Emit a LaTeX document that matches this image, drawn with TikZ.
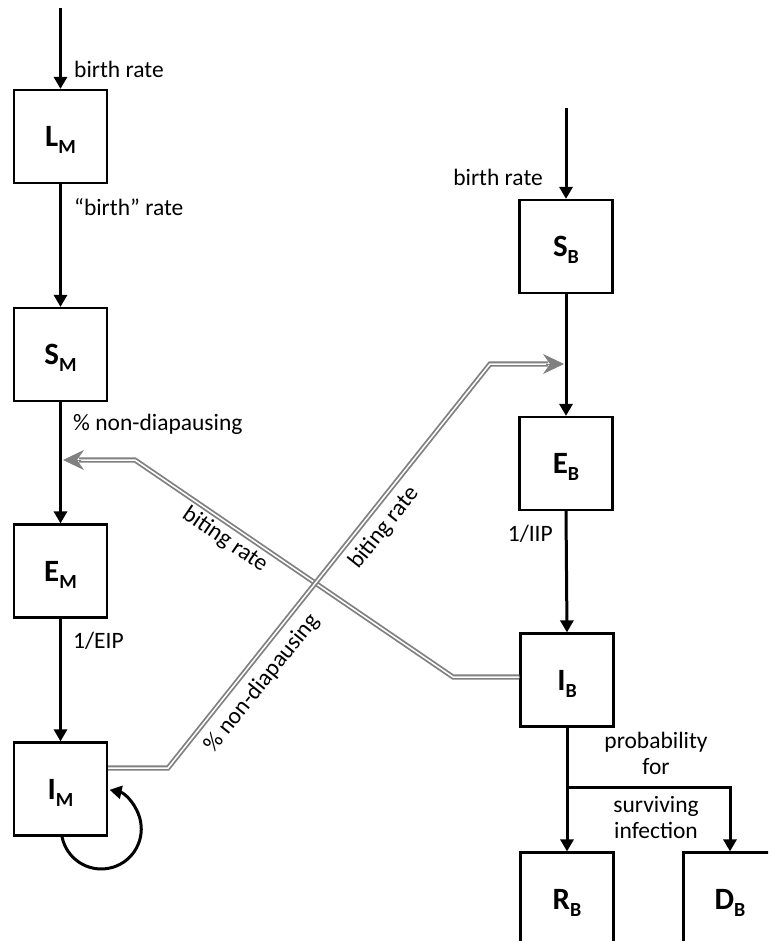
\documentclass[tikz,border=0pt]{standalone}
\usepackage{fontspec}
\setmainfont{Carlito}
\usetikzlibrary{arrows.meta,calc}
\newcommand\lab[2]{#1\raisebox{-7pt}{\fontsize{20}{20}\selectfont #2}}
\begin{document}
\begin{tikzpicture}[x=1pt,y=1pt,
  box/.style={draw, line width=2.2pt, minimum width=93pt, minimum height=93pt,
    inner sep=0pt, text height=20pt, text depth=0pt,
    font=\fontsize{31}{31}\selectfont\bfseries},
  flow/.style={line width=3pt, -{Triangle[length=12pt,width=13pt]}},
  lbl/.style={font=\fontsize{23.5}{26}\selectfont, inner sep=0pt},
  bite/.style={draw=gray, double=white, line width=1.8pt, double distance=1.5pt, line join=miter},
  bitetip/.style={draw=gray, fill=gray, line width=0.8pt, -{Stealth[length=21pt,width=20pt,inset=7pt]}}]
\path[use as bounding box, clip] (0,0) rectangle (768,-941);

% boxes
\node[box] (LM) at (60.5,-136.5) {\lab{L}{M}};
\node[box] (SM) at (60.5,-354.5) {\lab{S}{M}};
\node[box] (EM) at (60.5,-571) {\lab{E}{M}};
\node[box] (IM) at (60.5,-789) {\lab{I}{M}};
\node[box] (SB) at (566,-246.5) {\lab{S}{B}};
\node[box] (EB) at (566,-463.5) {\lab{E}{B}};
\node[box] (IB) at (567,-680) {\lab{I}{B}};
\node[box] (RB) at (567,-899) {\lab{R}{B}};
\node[box] (DB) at (730,-899) {\lab{D}{B}};

% free ends
\coordinate (topL) at (60.5,-8);
\coordinate (topR) at (566,-108);
\coordinate (tipL) at (63,-460);
\coordinate (tipR) at (564,-364);
\coordinate (br) at (567,-787);

% gray biting-rate connectors
\draw[bite] ([yshift=3pt]IB.west) -- (453,-677) -- (135,-460) -- ($(tipL)+(16,0)$);
\draw[bitetip] ($(tipL)+(18,0)$) -- (tipL);
\draw[bite] ([yshift=21pt]IM.east) -- (168,-768) -- (490,-364) -- ($(tipR)+(-16,0)$);
\draw[bitetip] ($(tipR)+(-18,0)$) -- (tipR);

% black flows
\draw[flow] (topL) -- (LM.north);
\draw[flow] (LM.south) -- (SM.north);
\draw[flow] (SM.south) -- (EM.north);
\draw[flow] (EM.south) -- (IM.north);
\draw[flow] ([xshift=1.5pt]IM.south) arc[start angle=191, end angle=438, radius=40];
\draw[flow] (topR) -- (SB.north);
\draw[flow] (SB.south) -- (EB.north);
\draw[flow] (EB.south) -- (IB.north);
\draw[flow] (IB.south) -- (RB.north);
\draw[flow, line join=miter] (br) -| (DB.north);

% labels
\node[lbl, anchor=west] (l1) at (74,-69) {birth rate};
\node[lbl, anchor=west] (l2) at (74,-207) {“birth” rate};
\node[lbl, anchor=west] (l3) at (73,-424) {\% non-diapausing};
\node[lbl, anchor=west] (l4) at (73,-641) {1/EIP};
\node[lbl, anchor=east] (l5) at (543,-177) {birth rate};
\node[lbl, anchor=east] (l6) at (553,-534) {1/IIP};
\node[lbl, align=center] (l7) at (656,-753) {probability\\for};
\node[lbl, align=center] (l8) at (656,-817) {surviving\\infection};
\node[lbl, rotate=-34.3] (l9) at (225,-540) {biting rate};
\node[lbl, rotate=51.4] (l10) at (384,-528) {biting rate};
\node[lbl, rotate=51.4] (l11) at (262,-683) {\% non-diapausing};
\end{tikzpicture}
\end{document}
